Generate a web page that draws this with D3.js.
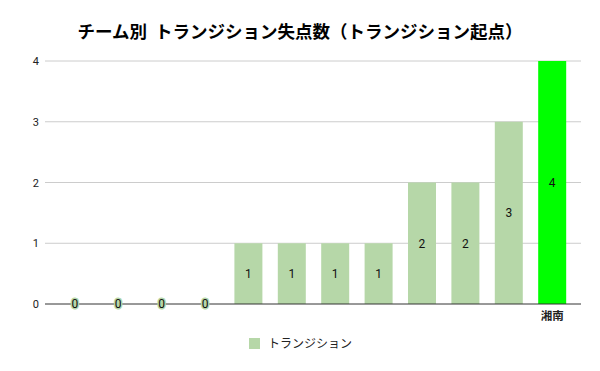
<!DOCTYPE html>
<html>
<head>
<meta charset="utf-8">
<script src="https://cdn.jsdelivr.net/npm/d3@7"></script>
<style>
  body { margin: 0; background: #fff; }
  svg { display: block; font-family: Roboto, Arial, "Noto Sans CJK JP", sans-serif; }
</style>
</head>
<body>
<div id="chart"></div>
<script>
// Chart data
const teams = ['t1', 't2', 't3', 't4', 't5', 't6', 't7', 't8', 't9', 't10', 't11', '湘南'];
const teamLabels = ['', '', '', '', '', '', '', '', '', '', '', '湘南'];
const goalsConceded = [0, 0, 0, 0, 1, 1, 1, 1, 2, 2, 3, 4];
const yTicks = [0, 1, 2, 3, 4];
const highlightTeam = '湘南';
const seriesName = 'トランジション';
const title = 'チーム別  トランジション失点数（トランジション起点）';

const width = 600, height = 371;
const barColor = '#b6d7a8';
const highlightColor = '#00ff00';

const svg = d3.select('#chart').append('svg')
    .attr('width', width)
    .attr('height', height);

const x = d3.scaleBand()
    .domain(teams)
    .range([53, 574])
    .paddingInner(0.355)
    .paddingOuter(0.18);

const y = d3.scaleLinear()
    .domain([0, 4])
    .range([304, 61]);

// Title
svg.append('text')
    .attr('x', 300)
    .attr('y', 38)
    .attr('text-anchor', 'middle')
    .attr('xml:space', 'preserve')
    .style('white-space', 'pre')
    .style('font-family', '"Noto Sans CJK JP", sans-serif')
    .style('font-size', '17.5px')
    .style('font-weight', 'bold')
    .attr('fill', '#000')
    .text(title);

// Gridlines
svg.append('g')
    .selectAll('line')
    .data(yTicks.filter(d => d > 0))
    .join('line')
    .attr('x1', 45)
    .attr('x2', 581)
    .attr('y1', d => y(d))
    .attr('y2', d => y(d))
    .attr('stroke', '#cccccc')
    .attr('stroke-width', 1);

// Y axis labels
const yAxis = d3.axisLeft(y).tickValues(yTicks).tickSize(0).tickPadding(0).tickFormat(d3.format('d'));
const yAxisG = svg.append('g')
    .attr('transform', 'translate(39,0)')
    .call(yAxis);
yAxisG.select('.domain').remove();
yAxisG.selectAll('text')
    .style('font-family', 'Roboto, Arial, sans-serif')
    .style('font-size', '11px')
    .attr('fill', '#222');

// Bars
svg.append('g')
    .selectAll('rect')
    .data(teams)
    .join('rect')
    .attr('x', d => x(d))
    .attr('y', (d, i) => y(goalsConceded[i]))
    .attr('width', x.bandwidth())
    .attr('height', (d, i) => y(0) - y(goalsConceded[i]))
    .attr('fill', d => d === highlightTeam ? highlightColor : barColor);

// Baseline
svg.append('line')
    .attr('x1', 45)
    .attr('x2', 581)
    .attr('y1', y(0))
    .attr('y2', y(0))
    .attr('stroke', '#333333')
    .attr('stroke-width', 1);

// Value labels
svg.append('g')
    .selectAll('text')
    .data(teams)
    .join('text')
    .attr('x', d => x(d) + x.bandwidth() / 2)
    .attr('y', (d, i) => (y(goalsConceded[i]) + y(0)) / 2)
    .attr('dy', '0.36em')
    .attr('text-anchor', 'middle')
    .style('font-family', 'Roboto, Arial, sans-serif')
    .style('font-size', '12px')
    .attr('fill', '#111')
    .attr('stroke', (d, i) => goalsConceded[i] === 0 ? barColor : 'none')
    .attr('stroke-width', 3)
    .attr('paint-order', 'stroke')
    .text((d, i) => goalsConceded[i]);

// X axis labels
const xAxis = d3.axisBottom(x).tickSize(0).tickPadding(8).tickFormat((d, i) => teamLabels[i]);
const xAxisG = svg.append('g')
    .attr('transform', `translate(0,${y(0)})`)
    .call(xAxis);
xAxisG.select('.domain').remove();
xAxisG.selectAll('text')
    .style('font-family', '"Noto Sans CJK JP", sans-serif')
    .style('font-size', '11.5px')
    .style('font-weight', 'bold')
    .attr('fill', '#222');

// Legend
const legend = svg.append('g').attr('transform', 'translate(249,338)');
legend.append('rect')
    .attr('width', 11)
    .attr('height', 11)
    .attr('fill', barColor);
legend.append('text')
    .attr('x', 19)
    .attr('y', 6)
    .attr('dy', '0.35em')
    .style('font-family', '"Noto Sans CJK JP", sans-serif')
    .style('font-size', '12px')
    .attr('fill', '#222')
    .text(seriesName);
</script>
</body>
</html>
